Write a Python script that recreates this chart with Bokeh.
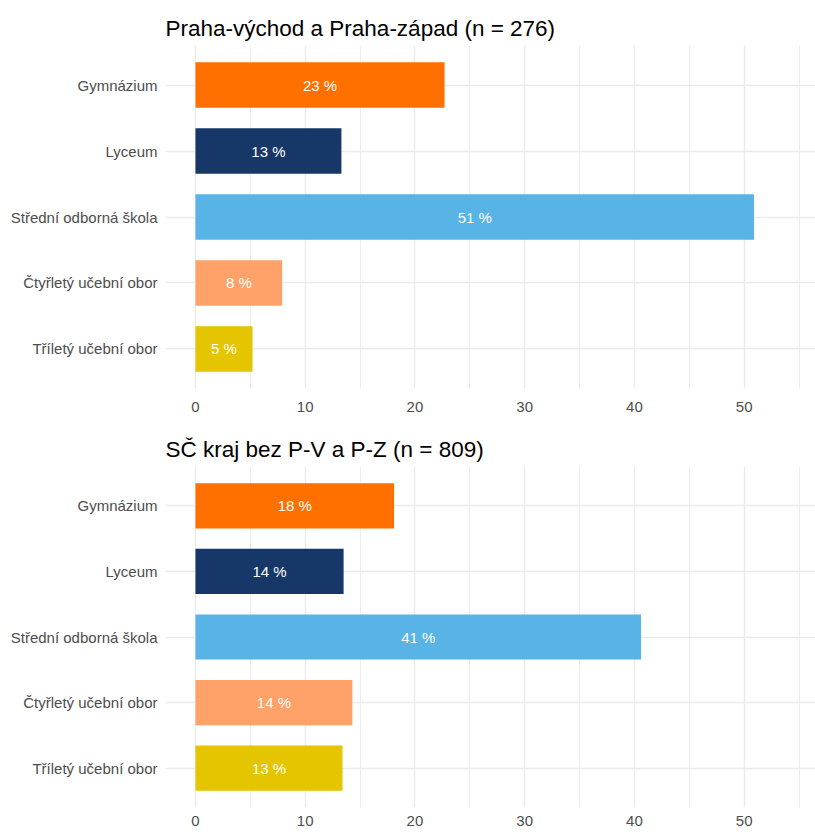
from bokeh.plotting import figure
from bokeh.layouts import column
from bokeh.models import ColumnDataSource, FactorRange, Range1d, SingleIntervalTicker
from bokeh.core.properties import value
from bokeh.embed import file_html
from bokeh.resources import INLINE

categories = ["Gymnázium", "Lyceum", "Střední odborná škola",
              "Čtyřletý učební obor", "Tříletý učební obor"]
colors = ["#ff7000", "#173768", "#58b4e6", "#fea26a", "#e5c400"]
title_top = "Praha-východ a Praha-západ (n = 276)"
title_bottom = "SČ kraj bez P-V a P-Z (n = 809)"
values_top = [22.7, 13.3, 50.9, 7.9, 5.2]
values_bottom = [18.1, 13.5, 40.6, 14.3, 13.4]

FONT = "Liberation Sans"


def make_panel(title, values, frame_h, border_top, border_bottom, x_standoff):
    src = ColumnDataSource(dict(
        cat=categories,
        val=values,
        mid=[v / 2 for v in values],
        label=[f"{int(v + 0.5)} %" for v in values],
        color=colors,
    ))
    yr = FactorRange(factors=list(reversed(categories)),
                     range_padding=0.1, range_padding_units="absolute")
    p = figure(y_range=yr, x_range=Range1d(-2.73, 56.5),
               frame_width=650, frame_height=frame_h,
               min_border_left=165, min_border_right=0,
               min_border_top=border_top, min_border_bottom=border_bottom,
               output_backend="svg", toolbar_location=None, title=title)
    p.hbar(y="cat", left=0, right="val", height=0.69, fill_color="color",
           line_color=None, source=src)
    p.text(x="mid", y="cat", text="label", text_color="white",
           text_align="center", text_baseline="middle",
           text_font_size="15px", text_font=value(FONT), source=src)

    ticker = SingleIntervalTicker(interval=10, num_minor_ticks=2)
    p.xaxis.ticker = ticker
    p.xgrid.ticker = ticker
    p.xgrid.grid_line_color = "#ebebeb"
    p.xgrid.grid_line_width = 1.4
    p.xgrid.minor_grid_line_color = "#ededed"
    p.xgrid.minor_grid_line_width = 1
    p.ygrid.grid_line_color = "#ebebeb"
    p.ygrid.grid_line_width = 1.4

    for ax in (p.xaxis[0], p.yaxis[0]):
        ax.axis_line_color = None
        ax.major_tick_line_color = None
        ax.minor_tick_line_color = None
        ax.major_tick_out = 0
        ax.major_tick_in = 0
        ax.minor_tick_out = 0
        ax.minor_tick_in = 0
        ax.major_label_text_color = "#4d4d4d"
        ax.major_label_text_font = FONT
        ax.major_label_text_font_size = "15px"
    p.xaxis.major_label_standoff = x_standoff
    p.yaxis.major_label_standoff = 8

    p.outline_line_color = None
    p.title.text_font = FONT
    p.title.text_font_size = "22.5px"
    p.title.text_font_style = "normal"
    p.title.text_color = "#000000"
    p.title.align = "left"
    return p


p1 = make_panel(title_top, values_top, 343, 45, 41, 13)
p2 = make_panel(title_bottom, values_bottom, 341, 37, 20, 8)
layout = column(p1, p2, spacing=0)

open("out.html", "w").write(file_html(layout, INLINE))
